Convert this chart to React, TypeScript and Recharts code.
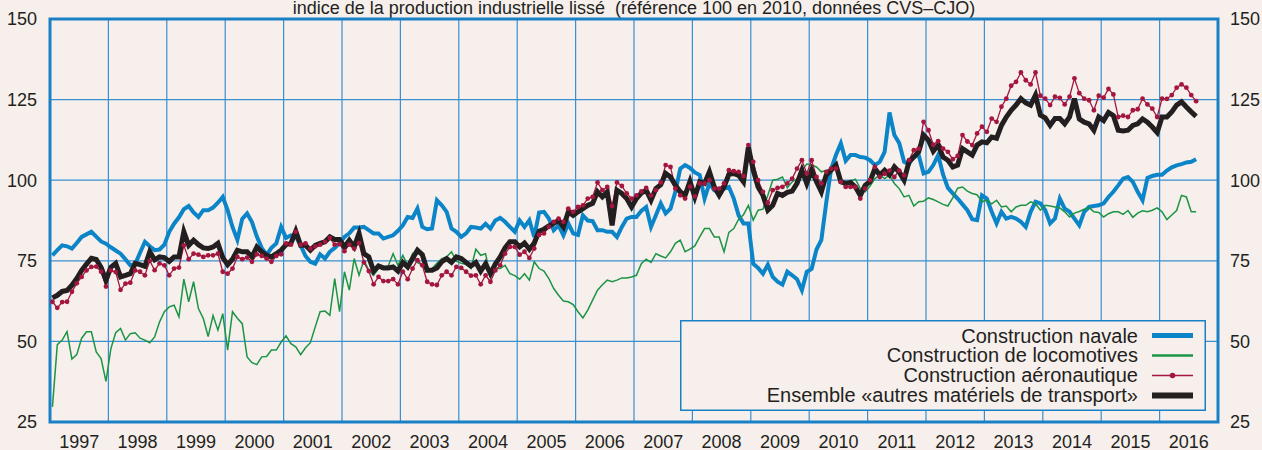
import { LineChart, Line, XAxis, YAxis, CartesianGrid, ReferenceArea } from "recharts";

const BG = "#f6efec";
const GRID = "#3a8fd0";
const FRAME = "#1a80c5";
const FONT = '"Liberation Sans", Arial, Helvetica, sans-serif';

const FIRST_YEAR = 1997;
const yearBounds = Array.from({ length: 21 }, (_, i) => FIRST_YEAR + i); // 1997..2017
const yearLabels = yearBounds.slice(0, 20).map((y) => y + 0.5);
const yTicks = [25, 50, 75, 100, 125, 150];

// monthly values, jan 1997 -> aug 2016
const navale = [
  76.7, 78.3, 79.8, 79.5, 78.8, 80.5, 82.4, 83.2, 84, 82.5, 81, 80.3, 79.2, 78.2, 77.2, 75.5, 73.6, 74, 77.5, 80.9, 79.5, 78.3, 78.5, 80, 84, 86.5, 88.5, 91, 92, 90,
  88.6, 90.7, 90.7, 91.5, 93, 94.8, 90.7, 85.5, 81.5, 88, 89.7, 87, 82.5, 79, 76.8, 79, 80.4, 85.5, 82.1, 82.9, 82.5, 79.8, 76.5, 74.7, 74.1, 77, 75.7, 77.8, 79, 80.5,
  82.4, 83.5, 85.3, 85.3, 85.5, 84.5, 83.5, 83.5, 81.9, 82.4, 82.9, 84.3, 86, 88.6, 88.3, 91.2, 85.5, 84.8, 85, 93.8, 92.2, 90.2, 85, 84, 82.4, 83.5, 85.5, 85.3, 85, 86.5,
  85, 87.5, 88.3, 87.1, 85.5, 84, 87.5, 85.5, 87.6, 82.4, 90, 90.2, 88.1, 84.5, 86, 82.9, 86.6, 83.5, 83, 89.1, 87.5, 87.3, 84.5, 84.5, 84, 84, 82.4, 85.5, 88.1, 88.6,
  88.6, 90.5, 91.7, 85.5, 89.1, 92.8, 89.7, 91.2, 96.4, 103.6, 104.7, 103.8, 102.4, 101.6, 94.3, 99, 96.9, 96.4, 97.4, 97.9, 94.3, 89.1, 86.6, 86.6, 74.1, 72.8, 71, 73.8, 70, 68.5,
  67.6, 71.6, 70.5, 69.3, 65.9, 71.6, 72.5, 78.5, 81.5, 93, 103.5, 107.8, 111.4, 106, 107.8, 107.8, 107.2, 107, 106.2, 104.7, 105.7, 108.8, 121, 114, 111.5, 105.7, 105, 107.5, 107.8, 102.1,
  102.6, 104.7, 107.8, 101.8, 97.6, 95.9, 94.3, 92.5, 90.7, 87.9, 87.6, 95.3, 94.3, 90.2, 86.6, 90.2, 88.1, 88.6, 88.1, 87.1, 85.5, 90.2, 93.3, 92.8, 90.7, 86.6, 88.1, 94.3, 91.2, 90.2,
  88.1, 86, 90.2, 91.7, 92, 92.2, 92.8, 94.8, 96.4, 98.4, 100.5, 101, 99.5, 96.4, 93.8, 100.7, 101.3, 101.7, 101.7, 103, 104, 104.6, 105, 105.5, 105.7, 106.5,
];

const locomotives = [
  29.7, 49, 50.4, 53, 44.5, 45.9, 51, 53, 53, 46.7, 44.7, 37.6, 47.7, 52.7, 54, 50.4, 52.4, 52.7, 51, 50.4, 49.6, 51.4, 56, 59.2, 60.7, 61.2, 57.6, 69.3, 62.3, 68.5,
  60.2, 57.1, 51.5, 58, 53.5, 58.6, 47.3, 59.2, 57.2, 55.5, 45.2, 43.4, 42.8, 45.2, 45.3, 47.3, 47.3, 49.8, 51.7, 49.3, 48.3, 45.9, 48, 49.6, 54.5, 59.2, 59.4, 58.1, 69.5, 59.2,
  71.6, 65.9, 75.7, 70.5, 75.2, 72.1, 70.5, 72.6, 73.1, 73.4, 77.2, 73.6, 76.7, 73.6, 77.2, 74.5, 73.6, 71.6, 72.6, 74.2, 75.7, 76.2, 77.8, 74.9, 74.2, 73.9, 72.6, 78.6, 76.7, 77.2,
  70, 72.6, 72.6, 73.6, 71, 70.4, 69.3, 71, 69, 74.7, 72.6, 71.8, 69.5, 66.4, 64.3, 62.5, 62.3, 61.4, 59.2, 57.3, 59.7, 62.8, 65.9, 67.6, 69, 68.5, 69, 69.7, 69.7, 70,
  70.5, 74.1, 75.5, 74.5, 77.2, 76.5, 75.9, 77.8, 80.4, 81.4, 77.8, 78.6, 79.6, 82.4, 85, 85, 82.4, 82.4, 77.8, 83.8, 85, 87.9, 89.3, 92.2, 87.6, 90.7, 91, 95.3, 100, 100.3,
  101, 97.6, 99.5, 100.3, 103.1, 105, 104.7, 104.1, 102.6, 103, 103.6, 104, 99.5, 99, 99.8, 100.3, 97.4, 96.4, 98.2, 100.5, 101.6, 100.5, 101.6, 99, 97.4, 94.8, 95.3, 92, 93.3, 93.5,
  94.5, 94, 93.3, 92.5, 92, 94.5, 97.5, 97.9, 96.6, 95.9, 95.5, 93.3, 93.8, 92.7, 93.8, 91.7, 92, 90.2, 91.7, 92.2, 92.2, 93.3, 92.7, 90.7, 92.2, 92, 91.7, 91.4, 90.2, 88.6,
  89.8, 90.3, 91, 91.5, 90.2, 90, 88.6, 89.6, 90.2, 90.2, 89.4, 90.6, 88.5, 89.8, 90.5, 90.2, 90.7, 91.4, 90.2, 87.8, 89.2, 90.6, 95.3, 94.8, 90.2, 90.2,
];

const aeronautique = [
  62.3, 60.4, 62.2, 62.3, 65.4, 68, 70, 72, 73.1, 73.2, 71.6, 67, 72, 71.5, 66, 67.9, 68.2, 72, 71.6, 70.5, 75, 72.1, 74.2, 73.6, 70.5, 72.6, 72.9, 79.8, 75.5, 77.2,
  76.9, 76.2, 76.7, 76.7, 77.2, 71.6, 71, 72.6, 76.2, 75.5, 76, 74.7, 77, 76.5, 75.7, 74.7, 76.5, 77, 80.4, 80, 84, 80, 80.4, 78.8, 79.5, 80, 80.9, 82.1, 80, 80.2,
  78, 80, 78.8, 80.5, 74.5, 71.8, 67.7, 70, 68.7, 68.7, 69.3, 67.7, 71.6, 69.3, 72.6, 75.2, 73.6, 68.5, 67.7, 67.5, 70.5, 71.6, 70.5, 73.1, 72.8, 71.6, 70.4, 70.5, 67.7, 70.5,
  68.5, 72, 73.6, 77.2, 79.3, 79.3, 76.9, 77.8, 75.9, 78.8, 83, 83.5, 85.5, 87.1, 88.1, 87.1, 91.2, 90.2, 91.7, 92.2, 94.3, 94.8, 99.3, 96.9, 97.9, 92, 99.3, 98.2, 95.9, 94.3,
  95.3, 96.5, 97.6, 95.3, 96.9, 99.3, 104.7, 104.1, 97.4, 95.3, 94.3, 98, 95, 99, 99, 100, 97.4, 97.4, 99, 103.1, 102.8, 102.6, 101.3, 110.9, 105.7, 100, 96.4, 93, 96.9, 97.6,
  97.9, 99, 100.5, 103.6, 106.2, 102.1, 106.2, 101, 99, 102.6, 103.6, 103.6, 99.5, 97.9, 97.9, 97.9, 94.3, 97.4, 100, 104.1, 101, 102, 103, 101, 103, 101.5, 106.2, 109.3, 109.8, 118.1,
  115.5, 111, 112.1, 109.8, 108.8, 106.5, 107.5, 114, 112, 110.9, 114.5, 116.6, 115, 119.1, 118.1, 122.8, 125.3, 129.3, 130.5, 133.4, 131, 129.7, 133.4, 126.2, 125.3, 123.3, 125.9, 125.5, 123.5, 125.9,
  131.6, 127, 125.3, 124.8, 121.7, 126.2, 125.6, 128.3, 126.6, 119.6, 120, 119.6, 121.7, 122, 125.3, 123.5, 122.2, 119.6, 125.3, 125.2, 126.4, 128.7, 129.7, 128.7, 126.4, 124.5,
];

const ensemble = [
  63.5, 64.3, 65.5, 65.8, 67.4, 69.5, 72, 74, 75.8, 75.4, 73, 69, 73, 74.2, 70, 70.5, 71, 74.2, 73.8, 73.3, 77.8, 75.3, 76.2, 76, 74.8, 76.2, 76.2, 84, 79.8, 81.4,
  80, 79, 78.8, 79.3, 80.4, 76, 73.8, 75.5, 78.3, 77.8, 77.8, 76.2, 79.3, 77.8, 76.7, 76.2, 77.2, 78.3, 80, 80.4, 84.2, 79.8, 79.8, 78.3, 79.8, 80.4, 80.9, 82.4, 81.6, 81.6,
  79.3, 81.4, 79.3, 83.5, 77.2, 76.2, 71.8, 73.4, 72.8, 72.8, 73.1, 71.8, 74.5, 73.1, 75.7, 78.3, 76.9, 72.1, 72.1, 72.8, 74.7, 75.7, 74.5, 76.2, 75.7, 74.5, 73.4, 74.5, 71.8, 74.1,
  71, 74, 76.2, 79, 80.9, 80.9, 79.3, 80.5, 78.6, 80.5, 84.2, 84.8, 85.8, 86.6, 87.5, 85.5, 90.2, 89.1, 90.2, 91.2, 92.2, 92.8, 96.4, 94.8, 96.4, 86, 96.9, 95.9, 94.3, 91.7,
  94.3, 96, 96.9, 93.8, 97.4, 98.6, 102.1, 101, 98.4, 96.4, 95.3, 99.6, 94.8, 99.5, 99, 102.6, 97.9, 95.3, 97.9, 101.8, 102.1, 101.5, 99.5, 110.3, 103.1, 97.9, 95.3, 90.7, 92.2, 95.9,
  95.3, 96.2, 96.6, 99, 103.1, 99, 103.1, 99.5, 96.4, 101.6, 103.1, 104.7, 99.5, 99, 99.3, 97.9, 95.3, 98.4, 99.6, 103.6, 101.6, 103.1, 101.6, 104.1, 102.5, 100, 105.7, 107.2, 108.8, 114,
  112.4, 109, 110.9, 107.2, 106.2, 104.1, 104.7, 109.8, 108.8, 107.8, 110.9, 111.9, 111.6, 113.4, 113, 117, 119.6, 121.7, 123.3, 125.3, 124, 123.3, 126.4, 120.2, 119.3, 117, 119.1, 119.1, 117.5, 119.6,
  125.3, 119, 118, 117.5, 115.5, 119.6, 118.5, 121, 120, 115.5, 115.3, 115.5, 117, 117.5, 119, 118, 116.5, 114.8, 119.6, 119.6, 121.2, 123.3, 124.3, 122.7, 121.2, 119.8,
];

const series = [
  { key: "navale", label: "Construction navale", color: "#0b85c8", width: 4, dot: false },
  { key: "loco", label: "Construction de locomotives", color: "#1b9444", width: 1.5, dot: false },
  { key: "aero", label: "Construction aéronautique", color: "#a5163f", width: 1.3, dot: true },
  { key: "ensemble", label: "Ensemble «autres matériels de transport»", color: "#231f20", width: 5, dot: false },
];

const data = navale.map((v, i) => ({
  t: FIRST_YEAR + (i + 0.5) / 12,
  navale: v,
  loco: locomotives[i],
  aero: aeronautique[i],
  ensemble: ensemble[i],
}));

function LegendBox() {
  return (
    <svg width={526} height={91} style={{ display: "block" }}>
      <rect x={0.75} y={0.75} width={524.5} height={89.5} fill={BG} stroke={FRAME} strokeWidth={1.5} />
      {series.map((s, i) => (
        <g key={s.key}>
          <text x={458} y={22.5 + i * 19.8} textAnchor="end" fontSize={20} fontFamily={FONT} fill="#231f20">
            {s.label}
          </text>
          <line x1={472} x2={513} y1={15.5 + i * 20} y2={15.5 + i * 20} stroke={s.color} strokeWidth={s.dot ? 1.5 : s.width + 1} />
          {s.dot && <circle cx={492.5} cy={15.5 + i * 20} r={2.8} fill={s.color} />}
        </g>
      ))}
    </svg>
  );
}

export default function App() {
  return (
    <div style={{ position: "absolute", left: 0, top: 0, width: 1262, height: 450, background: BG, fontFamily: FONT, overflow: "hidden" }}>
      <div
        style={{
          position: "absolute",
          left: 50,
          width: 1168,
          top: -1,
          textAlign: "center",
          fontSize: 18,
          lineHeight: "18px",
          color: "#231f20",
          whiteSpace: "pre",
        }}
      >
        {"indice de la production industrielle lissé  (référence 100 en 2010, données CVS–CJO)"}
      </div>
      <div style={{ position: "absolute", left: 0, top: 0 }}>
        <LineChart width={1262} height={450} data={data} margin={{ top: 19, right: 0, bottom: 0, left: 0 }}>
          <CartesianGrid stroke={GRID} strokeWidth={1.2} verticalValues={yearBounds} />
          <XAxis
            dataKey="t"
            type="number"
            domain={[1997, 2017]}
            ticks={yearLabels}
            tickFormatter={(v: number) => String(Math.floor(v))}
            axisLine={false}
            tickLine={false}
            tickSize={0}
            tickMargin={13}
            height={28}
            interval={0}
            tick={{ fill: "#231f20", fontSize: 18, fontFamily: FONT }}
          />
          <YAxis
            domain={[25, 150]}
            ticks={yTicks}
            allowDataOverflow
            axisLine={false}
            tickLine={false}
            tickSize={0}
            tickMargin={13}
            width={50}
            interval={0}
            tick={{ fill: "#231f20", fontSize: 18, fontFamily: FONT }}
          />
          <YAxis
            yAxisId="r"
            orientation="right"
            domain={[25, 150]}
            ticks={yTicks}
            allowDataOverflow
            axisLine={false}
            tickLine={false}
            tickSize={0}
            tickMargin={12}
            width={44}
            interval={0}
            tick={{ fill: "#231f20", fontSize: 18, fontFamily: FONT, textAnchor: "start" }}
          />
          {series.map((s) => (
            <Line
              key={s.key}
              dataKey={s.key}
              name={s.label}
              type="linear"
              stroke={s.color}
              strokeWidth={s.width}
              strokeLinejoin="miter"
              dot={s.dot ? { r: 2.4, fill: s.color, stroke: "none" } : false}
              activeDot={false}
              isAnimationActive={false}
            />
          ))}
          <ReferenceArea x1={1997} x2={2017} y1={25} y2={150} fill="none" stroke={FRAME} strokeWidth={3} />
        </LineChart>
      </div>
      <div style={{ position: "absolute", left: 680, top: 320 }}>
        <LegendBox />
      </div>
    </div>
  );
}
